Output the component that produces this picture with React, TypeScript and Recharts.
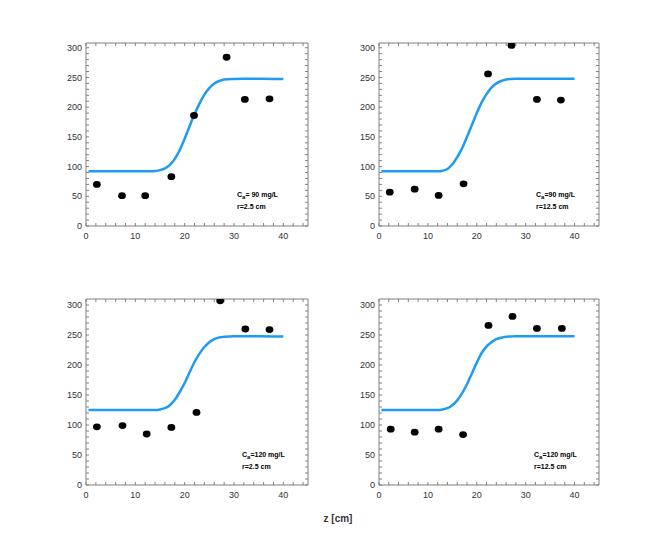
import React from 'react';
import { ComposedChart, Line, Scatter, XAxis, YAxis } from 'recharts';

// fitted curve abscissae (shared by all four panels)
const CURVE_Z = [0.5, 2, 4, 6, 8, 10, 12, 13, 14, 15, 16, 17, 18, 19, 20, 21, 22, 23, 24, 25, 26, 27, 28, 30, 32, 35, 40];

const CURVE_90_R25 = [92, 92, 92, 92, 92, 92, 92, 92, 92.5, 94, 97, 103, 113, 128, 147, 168, 188, 206, 221, 232, 240, 244, 246.5, 247.5, 248, 248, 247.5];
const CURVE_90_R125 = [92, 92, 92, 92, 92, 92, 92, 93, 96, 104, 116, 131, 150, 170, 190, 208, 222, 233, 240, 244, 246.5, 247.5, 248, 248, 248, 248, 248];
const CURVE_120_R25 = [125, 125, 125, 125, 125, 125, 125, 125, 125, 126, 128, 133, 142, 155, 170, 188, 205, 219, 230, 238, 243, 246, 247, 248, 248, 248, 247.5];
const CURVE_120_R125 = [125, 125, 125, 125, 125, 125, 125, 126, 128, 133, 141, 153, 168, 186, 204, 220, 231, 238, 243, 245.5, 247, 247.5, 248, 248, 248, 248, 248];

// measured points
const Z_90_R25 = [2.2, 7.3, 12.0, 17.3, 21.9, 28.5, 32.2, 37.2];
const C_90_R25 = [70, 51, 51, 83, 186, 284, 213, 214];
const Z_90_R125 = [2.2, 7.3, 12.2, 17.3, 22.3, 27.1, 32.3, 37.2];
const C_90_R125 = [57, 62, 51.5, 71, 256, 304, 213, 212];
const Z_120_R25 = [2.2, 7.4, 12.3, 17.3, 22.4, 27.2, 32.3, 37.2];
const C_120_R25 = [97, 99, 85, 96, 121, 307, 260, 259];
const Z_120_R125 = [2.4, 7.3, 12.2, 17.2, 22.4, 27.3, 32.3, 37.4];
const C_120_R125 = [93, 88, 93, 84, 266, 281, 261, 261];

const X_TICKS = [0, 10, 20, 30, 40];
const X_MINOR = Array.from({ length: 23 }, (_, i) => i * 2);
const Y_TICKS = [0, 50, 100, 150, 200, 250, 300];
const Y_MINOR = Array.from({ length: 31 }, (_, i) => i * 10);

const BLUE = '#1f9bf0';
const FRAME = '#808080';
const FONT = '"Liberation Sans", Arial, Helvetica, sans-serif';

const toRows = (xs: number[], ys: number[]) => xs.map((x, i) => ({ x, y: ys[i] }));

const Dot = (props: any) => <ellipse cx={props.cx} cy={props.cy} rx={3.9} ry={3.4} fill="#000" />;
const NoLabel = () => <g />;

interface PanelProps {
  left: number;
  top: number;
  width: number;
  height: number;
  yMax: number;
  curve: number[];
  z: number[];
  c: number[];
}

function Panel({ left, top, width, height, yMax, curve, z, c }: PanelProps) {
  const tickStyle = { fontSize: 9, fill: '#333', fontFamily: FONT };
  return (
    <div style={{ position: 'absolute', left, top }}>
      <ComposedChart width={width} height={height} margin={{ top: 10, right: 8, left: 0, bottom: 0 }}>
        <XAxis dataKey="x" type="number" domain={[0, 45]} ticks={X_TICKS} interval={0} height={20} allowDataOverflow
          tick={tickStyle} tickLine={false} tickSize={5} tickMargin={2} axisLine={{ stroke: FRAME }} />
        <XAxis xAxisId="bm" dataKey="x" type="number" domain={[0, 45]} ticks={X_MINOR} interval={0} mirror allowDataOverflow
          tick={NoLabel} tickSize={3} tickLine={{ stroke: FRAME }} axisLine={false} />
        <XAxis xAxisId="tm" dataKey="x" orientation="top" type="number" domain={[0, 45]} ticks={X_MINOR} interval={0} mirror allowDataOverflow
          tick={NoLabel} tickSize={3} tickLine={{ stroke: FRAME }} axisLine={{ stroke: FRAME }} />
        <YAxis type="number" domain={[0, yMax]} ticks={Y_TICKS} interval={0} width={40} allowDataOverflow
          tick={tickStyle} tickLine={false} tickSize={2} tickMargin={2} axisLine={{ stroke: FRAME }} />
        <YAxis yAxisId="lm" type="number" domain={[0, yMax]} ticks={Y_MINOR} interval={0} mirror allowDataOverflow
          tick={NoLabel} tickSize={3} tickLine={{ stroke: FRAME }} axisLine={false} />
        <YAxis yAxisId="rm" orientation="right" type="number" domain={[0, yMax]} ticks={Y_MINOR} interval={0} mirror allowDataOverflow
          tick={NoLabel} tickSize={3} tickLine={{ stroke: FRAME }} axisLine={{ stroke: FRAME }} />
        <Line data={toRows(CURVE_Z, curve)} dataKey="y" type="monotone" stroke={BLUE} strokeWidth={2.5}
          dot={false} isAnimationActive={false} />
        <Scatter data={toRows(z, c)} dataKey="y" shape={Dot} isAnimationActive={false} />
      </ComposedChart>
    </div>
  );
}

function Note({ x, y, ca, r }: { x: number; y: number; ca: string; r: string }) {
  return (
    <g fontFamily={FONT} fontWeight="bold" fontSize={7} fill="#000">
      <text x={x} y={y}>
        C<tspan fontSize={6} dy={2}>a</tspan><tspan dy={-2}>{ca}</tspan>
      </text>
      <text x={x} y={y + 12}>{r}</text>
    </g>
  );
}

export default function App() {
  return (
    <div style={{ position: 'relative', width: 664, height: 545, background: '#fff' }}>
      <style>{'body{margin:0}'}</style>
      <Panel left={46} top={33} width={270} height={213} yMax={308} curve={CURVE_90_R25} z={Z_90_R25} c={C_90_R25} />
      <Panel left={339} top={33} width={268} height={213} yMax={308} curve={CURVE_90_R125} z={Z_90_R125} c={C_90_R125} />
      <Panel left={46} top={289} width={270} height={216} yMax={310} curve={CURVE_120_R25} z={Z_120_R25} c={C_120_R25} />
      <Panel left={339} top={289} width={268} height={216} yMax={310} curve={CURVE_120_R125} z={Z_120_R125} c={C_120_R125} />
      <svg width={664} height={545} style={{ position: 'absolute', left: 0, top: 0, pointerEvents: 'none' }}>
        <Note x={237} y={197} ca="= 90 mg/L" r="r=2.5 cm" />
        <Note x={536} y={197} ca="=90 mg/L" r="r=12.5 cm" />
        <Note x={242} y={457} ca="=120 mg/L" r="r=2.5 cm" />
        <Note x={534} y={457} ca="=120 mg/L" r="r=12.5 cm" />
        <text x={338} y={522} textAnchor="middle" fontFamily={FONT} fontWeight="bold" fontSize={10} fill="#333">z [cm]</text>
      </svg>
    </div>
  );
}
